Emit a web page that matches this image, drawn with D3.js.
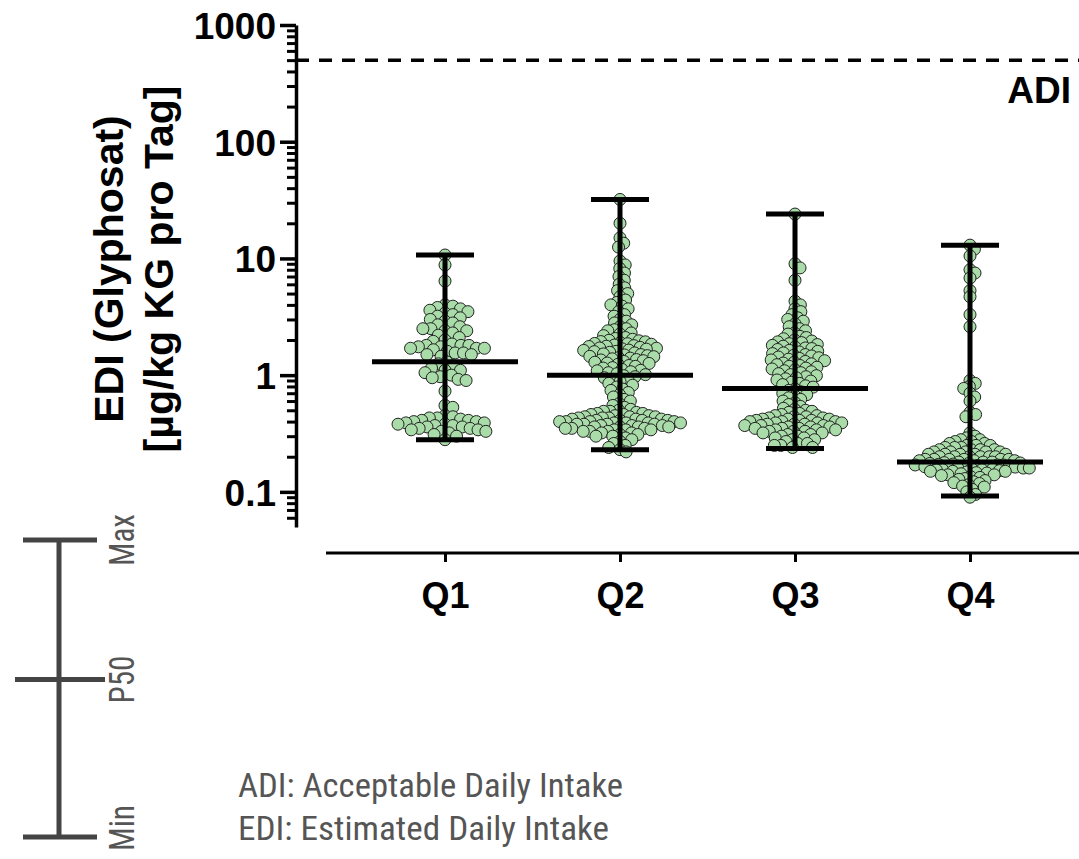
<!DOCTYPE html>
<html>
<head>
<meta charset="utf-8">
<script src="https://cdn.jsdelivr.net/npm/d3@7"></script>
<style>
  html, body { margin: 0; padding: 0; background: #fff; }
  svg { display: block; }
</style>
</head>
<body>
<svg id="chart" width="1079" height="859"></svg>
<script>
// ---------------- data ----------------
const categories = ["Q1", "Q2", "Q3", "Q4"];

const valuesQ1 = [10.7, 8.8, 6.4, 4.0, 3.8, 3.7, 3.9, 3.6, 3.5, 3.3, 3.2, 3.1, 3.0, 3.4, 2.9, 2.7, 2.8,
  2.6, 2.5, 2.4, 2.3, 2.5, 2.4, 2.2, 2.0, 2.1, 1.95, 1.85, 1.8, 1.75, 1.7, 1.8, 1.75, 1.7, 1.65, 1.7,
  1.8, 1.6, 1.55, 1.5, 1.55, 1.5, 1.45, 1.3, 1.25, 1.2, 1.15, 1.1, 1.05, 1.0, 1.1, 0.95, 0.9, 0.92,
  0.97, 0.73, 0.55, 0.53, 0.45, 0.44, 0.43, 0.43, 0.42, 0.41, 0.41, 0.40, 0.40, 0.39, 0.39, 0.38, 0.38,
  0.37, 0.37, 0.36, 0.36, 0.35, 0.35, 0.34, 0.34, 0.33, 0.33, 0.32, 0.31, 0.30, 0.28];

const valuesQ2 = [32, 20, 15, 13.5, 12.5, 9.5, 8.8, 8.2, 7.5, 7, 6.5, 6, 5.6, 5.3, 5, 4.7, 4.4, 4.2, 4,
  3.9, 3.7, 3.5, 3.3, 3.2, 3.0, 2.9, 2.8, 2.7, 2.6, 2.5, 2.45, 2.4, 2.3, 2.25,
  2.18, 2.1, 2.06, 2.03, 1.99, 1.97, 1.94, 1.93, 1.9, 1.87, 1.86, 1.84, 1.81, 1.79, 1.77, 1.76, 1.73,
  1.71, 1.7, 1.68, 1.67, 1.64, 1.63, 1.6, 1.59, 1.57, 1.55, 1.52, 1.5, 1.49, 1.47, 1.45, 1.44, 1.41,
  1.4, 1.38, 1.36, 1.35, 1.33, 1.31, 1.29, 1.27, 1.26, 1.24, 1.21, 1.19, 1.16, 1.15, 1.12, 1.1, 1.09,
  1.07, 1.05, 1.03, 1.01,
  0.99, 0.97, 0.95, 0.92, 0.9, 0.88, 0.85, 0.82, 0.79, 0.76, 0.74, 0.71, 0.68, 0.65, 0.62, 0.6, 0.57,
  0.55, 0.53, 0.51,
  0.5, 0.49, 0.49, 0.48, 0.47, 0.47, 0.46, 0.46, 0.45, 0.45, 0.44, 0.44, 0.44, 0.43, 0.43, 0.43, 0.42,
  0.42, 0.42, 0.41, 0.41, 0.41, 0.41, 0.4, 0.4, 0.4, 0.4, 0.39, 0.39, 0.39, 0.39, 0.38, 0.38, 0.38,
  0.38, 0.37, 0.37, 0.37, 0.36, 0.36, 0.36, 0.36, 0.35, 0.35, 0.35, 0.34, 0.34, 0.34, 0.33, 0.33, 0.33,
  0.32, 0.32, 0.31, 0.31, 0.3, 0.3, 0.29, 0.28, 0.27, 0.26, 0.25, 0.24, 0.23, 0.22];

const valuesQ3 = [24, 9, 8.3, 6.5, 4.3, 4.0, 3.7, 3.5, 3.3, 3.1, 3.0, 2.9, 2.75, 2.6, 2.5, 2.4, 2.3, 2.25,
  2.15, 2.1, 2.05, 2.0, 1.96, 1.93, 1.9, 1.86, 1.83, 1.8, 1.77, 1.74, 1.71, 1.69, 1.66, 1.63, 1.6, 1.58,
  1.55, 1.53, 1.5, 1.48, 1.46, 1.43, 1.41, 1.39, 1.37, 1.35, 1.33, 1.31, 1.29, 1.27, 1.25, 1.23, 1.21,
  1.19, 1.17, 1.15, 1.13, 1.11, 1.09, 1.07, 1.05, 1.03, 1.01, 0.99, 0.97, 0.95, 0.93, 0.91, 0.89, 0.87,
  0.85, 0.83, 0.81, 0.79,
  0.76, 0.74, 0.72, 0.7, 0.68, 0.66, 0.64, 0.62, 0.6, 0.58, 0.56, 0.54, 0.52, 0.51, 0.5, 0.49, 0.48,
  0.47, 0.46, 0.45, 0.45, 0.44, 0.44, 0.43, 0.43, 0.42, 0.42, 0.42, 0.41, 0.41, 0.41, 0.4, 0.4, 0.4,
  0.39, 0.39, 0.39, 0.38, 0.38, 0.38, 0.37, 0.37, 0.37, 0.36, 0.36, 0.36, 0.35, 0.35, 0.35, 0.34, 0.34,
  0.34, 0.33, 0.33, 0.33, 0.32, 0.32, 0.31, 0.31, 0.3, 0.3, 0.29, 0.29, 0.28, 0.28, 0.27, 0.26, 0.26,
  0.25, 0.25, 0.24, 0.24];

const valuesQ4 = [13, 12, 10.5, 8, 7.5, 6.8, 5.3, 4.7, 3.3, 2.6, 0.9, 0.85, 0.8, 0.77, 0.7, 0.65, 0.6,
  0.48, 0.46, 0.44, 0.32, 0.3,
  0.29, 0.28, 0.28, 0.27, 0.27, 0.26, 0.26, 0.25, 0.25, 0.25, 0.24, 0.24, 0.24, 0.23, 0.23, 0.23, 0.23,
  0.22, 0.22, 0.22, 0.22, 0.22, 0.21, 0.21, 0.21, 0.21, 0.21, 0.2, 0.2, 0.2, 0.2, 0.2, 0.2, 0.19, 0.19,
  0.19, 0.19, 0.19, 0.19, 0.185, 0.185, 0.185, 0.18,
  0.18, 0.18, 0.178, 0.177, 0.175, 0.175, 0.173, 0.172, 0.17, 0.17, 0.17, 0.168, 0.167, 0.165, 0.165,
  0.164, 0.163, 0.162, 0.16, 0.16, 0.16, 0.158, 0.157, 0.155, 0.155, 0.154, 0.152, 0.15, 0.15, 0.15,
  0.148, 0.146, 0.145, 0.143, 0.14, 0.14, 0.138, 0.135, 0.133, 0.13, 0.128, 0.125, 0.122, 0.12, 0.118,
  0.115, 0.112, 0.11, 0.105, 0.1, 0.095, 0.09];

const medians = [1.3, 1.0, 0.77, 0.18];
const minima  = [0.28, 0.23, 0.235, 0.092];
const maxima  = [10.7, 32, 24, 13];

const adiValue = 500;
const yTickValues = [0.1, 1, 10, 100, 1000];
const yTickLabels = ["0.1", "1", "10", "100", "1000"];
const yMinorTicks = [0.06, 0.07, 0.08, 0.09,
  0.2, 0.3, 0.4, 0.5, 0.6, 0.7, 0.8, 0.9,
  2, 3, 4, 5, 6, 7, 8, 9,
  20, 30, 40, 50, 60, 70, 80, 90,
  200, 300, 400, 500, 600, 700, 800, 900];
const yTitleLines = ["EDI (Glyphosat)", "[µg/kg KG pro Tag]"];
const adiLabel = "ADI";
const legendKeys = ["Max", "P50", "Min"];
const legendKeyPos = [1, 0.53, 0];
const noteLines = ["ADI: Acceptable Daily Intake", "EDI: Estimated Daily Intake"];

const groups = [valuesQ1, valuesQ2, valuesQ3, valuesQ4];

// ---------------- drawing ----------------
const svg = d3.select("#chart");
const boldFont = "Arial, 'Liberation Sans', Helvetica, sans-serif";
const narrowFont = "'Liberation Sans Narrow', 'Roboto Condensed', Roboto, 'Liberation Sans', sans-serif";

const y = d3.scaleLog().domain([0.05, 1000]).range([527, 25]);
const x = d3.scalePoint().domain(categories).range([445, 970]);
const axisX0 = 296;
const xAxisY = 553;

// ADI dashed line
svg.append("line")
  .attr("x1", axisX0).attr("x2", 1079)
  .attr("y1", y(adiValue)).attr("y2", y(adiValue))
  .attr("stroke", "#000").attr("stroke-width", 3.5)
  .attr("stroke-dasharray", "13,10");

svg.append("text")
  .attr("x", 1071).attr("y", y(adiValue) + 43)
  .attr("text-anchor", "end")
  .attr("font-family", boldFont).attr("font-weight", "bold").attr("font-size", 37)
  .text(adiLabel);

// Y axis (minor)
const yMinor = svg.append("g").attr("transform", `translate(${axisX0},0)`)
  .call(d3.axisLeft(y).tickValues(yMinorTicks).tickSize(9).tickSizeOuter(0).tickFormat(""));
yMinor.select(".domain").remove();
yMinor.selectAll(".tick line").attr("stroke", "#000").attr("stroke-width", 3);

// Y axis (major)
const yMajor = svg.append("g").attr("transform", `translate(${axisX0},0)`)
  .call(d3.axisLeft(y).tickValues(yTickValues).tickSize(16).tickSizeOuter(0).tickPadding(4)
    .tickFormat((d, i) => yTickLabels[i]));
yMajor.select(".domain").attr("stroke", "#000").attr("stroke-width", 3.5);
yMajor.selectAll(".tick line").attr("stroke", "#000").attr("stroke-width", 3.5);
yMajor.selectAll(".tick text")
  .attr("font-family", boldFont).attr("font-weight", "bold").attr("font-size", 37)
  .attr("fill", "#000").attr("dy", "0.36em");

// Y title
const yTitle = svg.append("text")
  .attr("transform", "translate(0,269) rotate(-90)")
  .attr("text-anchor", "middle")
  .attr("font-family", boldFont).attr("font-weight", "bold").attr("font-size", 41)
  .attr("fill", "#000");
yTitleLines.forEach((t, i) => {
  yTitle.append("tspan").attr("x", 0).attr("y", 123 + i * 50).text(t);
});

// X axis
const xAx = svg.append("g").attr("transform", `translate(0,${xAxisY})`)
  .call(d3.axisBottom(x).tickSize(9).tickSizeOuter(0).tickPadding(20));
xAx.select(".domain").attr("d", `M326,0H1079`).attr("stroke", "#000").attr("stroke-width", 3);
xAx.selectAll(".tick line").attr("stroke", "#000").attr("stroke-width", 3);
xAx.selectAll(".tick text")
  .attr("font-family", boldFont).attr("font-weight", "bold").attr("font-size", 36)
  .attr("fill", "#000");

// Beeswarm layout
function swarm(values, s) {
  const pts = values.map(v => ({ v, py: y(v) })).sort((a, b) => a.py - b.py);
  const placed = [];
  for (const p of pts) {
    const near = placed.filter(q => Math.abs(q.py - p.py) < s);
    const cands = [0];
    for (const q of near) {
      const dy = q.py - p.py;
      const dx = Math.sqrt(s * s - dy * dy);
      cands.push(q.dx + dx, q.dx - dx);
    }
    cands.sort((a, b) => Math.abs(a) - Math.abs(b));
    for (const c of cands) {
      if (near.every(q => (q.dx - c) ** 2 + (q.py - p.py) ** 2 >= s * s - 0.01)) { p.dx = c; break; }
    }
    placed.push(p);
  }
  return placed;
}

const spacing = [8, 6.5, 6.5, 6];
groups.forEach((vals, gi) => {
  const cx = x(categories[gi]);
  const pts = swarm(vals, spacing[gi]);
  svg.append("g").selectAll("circle").data(pts).join("circle")
    .attr("cx", d => cx + d.dx).attr("cy", d => d.py).attr("r", 6)
    .attr("fill", "#a9dca9").attr("stroke", "#222").attr("stroke-width", 1);
});

// whiskers & medians
categories.forEach((c, i) => {
  const cx = x(c);
  const g = svg.append("g").attr("stroke", "#000").attr("stroke-width", 5);
  g.append("line").attr("x1", cx).attr("x2", cx).attr("y1", y(maxima[i])).attr("y2", y(minima[i]));
  g.append("line").attr("x1", cx - 29).attr("x2", cx + 29).attr("y1", y(maxima[i])).attr("y2", y(maxima[i]));
  g.append("line").attr("x1", cx - 29).attr("x2", cx + 29).attr("y1", y(minima[i])).attr("y2", y(minima[i]));
  g.append("line").attr("x1", cx - 73).attr("x2", cx + 73).attr("y1", y(medians[i])).attr("y2", y(medians[i]));
});

// Legend whisker symbol
const ly = d3.scaleLinear().domain([0, 1]).range([837, 540]);
const leg = svg.append("g").attr("stroke", "#444").attr("stroke-width", 5);
leg.append("line").attr("x1", 59).attr("x2", 59).attr("y1", ly(1)).attr("y2", ly(0));
legendKeyPos.forEach((p, i) => {
  const half = legendKeys[i] === "P50" ? 45 : 37;
  leg.append("line").attr("x1", 60 - half).attr("x2", 60 + half).attr("y1", ly(p)).attr("y2", ly(p));
});
const keyLengths = [52, 48, 46];
const keyShift = [0, 0, -9];
legendKeys.forEach((k, i) => {
  svg.append("text")
    .attr("transform", `translate(134,${ly(legendKeyPos[i]) + keyShift[i]}) rotate(-90)`)
    .attr("text-anchor", "middle")
    .attr("font-family", narrowFont).attr("font-size", 35).attr("fill", "#555")
    .attr("textLength", keyLengths[i]).attr("lengthAdjust", "spacingAndGlyphs")
    .text(k);
});

// Notes
const noteWidths = [385, 371];
noteLines.forEach((t, i) => {
  svg.append("text")
    .attr("x", 238).attr("y", 797 + i * 43)
    .attr("font-family", narrowFont).attr("font-size", 34).attr("fill", "#555")
    .attr("textLength", noteWidths[i]).attr("lengthAdjust", "spacingAndGlyphs")
    .text(t);
});
</script>
</body>
</html>
